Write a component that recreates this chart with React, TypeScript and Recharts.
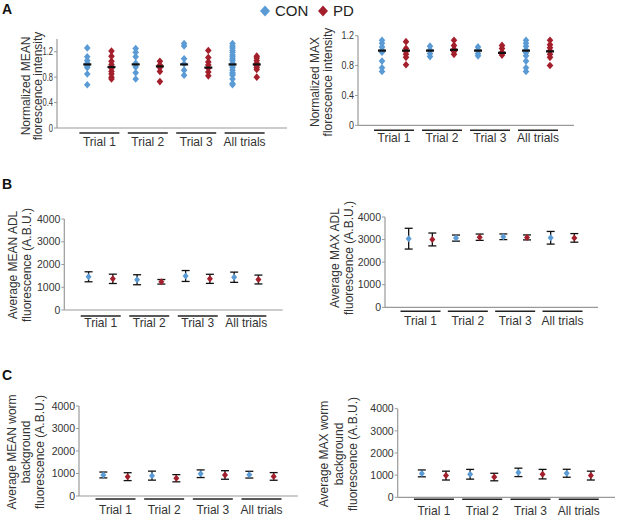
import React from "react";
import { ComposedChart, Scatter, XAxis, YAxis, ErrorBar } from "recharts";

const FONT = "Arial, 'Liberation Sans', Helvetica, sans-serif";
const CON_COLOR = "#5b9bd5";
const PD_COLOR = "#a31f2b";
const AXIS_COLOR = "#9a9a9a";
const TEXT_COLOR = "#333333";

const groups = ["Trial 1", "Trial 2", "Trial 3", "All trials"];

// A: normalized MEAN florescence, individual worms
const meanCon = [
  [1.26, 1.12, 1.06, 1.02, 0.98, 0.95, 0.85, 0.68],
  [1.25, 1.19, 1.12, 1.02, 0.96, 0.87, 0.77],
  [1.33, 1.29, 1.09, 1.01, 0.91, 0.83],
  [1.33, 1.29, 1.26, 1.22, 1.19, 1.15, 1.12, 1.09, 1.06, 1.02, 1.0, 0.98, 0.95, 0.91, 0.87, 0.85, 0.83, 0.77, 0.7, 0.68],
];
const meanPd = [
  [1.21, 1.13, 1.05, 1.0, 0.94, 0.89, 0.85, 0.8, 0.77],
  [1.05, 0.99, 0.95, 0.89, 0.73],
  [1.22, 1.11, 1.04, 0.99, 0.94, 0.88, 0.82],
  [1.13, 1.1, 1.06, 1.02, 1.0, 0.98, 0.95, 0.92, 0.8],
];
const meanConMedian = [1.0, 1.0, 1.0, 1.0];
const meanPdMedian = [0.96, 0.97, 0.95, 1.0];

// A: normalized MAX florescence
const maxCon = [
  [1.14, 1.1, 1.05, 1.01, 0.98, 0.86, 0.77, 0.72],
  [1.06, 1.01, 0.96, 0.92],
  [1.05, 1.01, 0.96, 0.93],
  [1.14, 1.1, 1.06, 1.01, 0.97, 0.93, 0.86, 0.77, 0.72],
];
const maxPd = [
  [1.12, 1.03, 0.99, 0.95, 0.91, 0.81],
  [1.14, 1.07, 1.02, 0.99, 0.95],
  [1.07, 1.03, 0.98, 0.94],
  [1.14, 1.08, 1.04, 1.0, 0.95, 0.91, 0.8],
];
const maxConMedian = [1.0, 1.0, 1.0, 1.0];
const maxPdMedian = [1.0, 1.01, 0.97, 0.99];

// B: ADL fluorescence (mean ± error)
const adlMeanCon = [1460, 1330, 1495, 1440];
const adlMeanConErr = [220, 220, 240, 225];
const adlMeanPd = [1370, 1240, 1370, 1340];
const adlMeanPdErr = [205, 100, 200, 195];
const adlMaxCon = [3040, 3066, 3124, 3080];
const adlMaxConErr = [460, 135, 125, 280];
const adlMaxPd = [3005, 3105, 3095, 3075];
const adlMaxPdErr = [285, 140, 110, 190];

// C: worm background fluorescence
const bgMeanCon = [935, 905, 990, 948];
const bgMeanConErr = [130, 200, 170, 150];
const bgMeanPd = [860, 790, 935, 870];
const bgMeanPdErr = [175, 160, 190, 170];
const bgMaxCon = [1080, 1040, 1125, 1085];
const bgMaxConErr = [155, 220, 190, 180];
const bgMaxPd = [980, 915, 1045, 980];
const bgMaxPdErr = [200, 170, 215, 200];

const ratioTicks = [0, 0.4, 0.8, 1.2];
const abuTicks = [0, 1000, 2000, 3000, 4000];
const groupTicks = [1.5, 3.5, 5.5, 7.5];

const X_H = 30;
const Y_W = 40;
const TICK_FS = 10.5;

const spread = (vals: number[][], off: number) =>
  vals.flatMap((vs, g) => vs.map((v) => ({ x: 2 * g + 1 + off, y: v })));
const single = (vals: number[], off: number, errs?: number[]) =>
  vals.map((v, g) => ({ x: 2 * g + 1 + off, y: v, err: errs ? errs[g] : 0 }));

const diamond = (color: string, r: number) => (p: any) => (
  <polygon
    points={`${p.cx},${p.cy - r - 0.5} ${p.cx + r},${p.cy} ${p.cx},${p.cy + r + 0.5} ${p.cx - r},${p.cy}`}
    fill={color}
  />
);
const medianBar = (p: any) => (
  <line x1={p.cx - 4} x2={p.cx + 4} y1={p.cy} y2={p.cy} stroke="#111" strokeWidth={2.2} />
);

const fmt = (v: number) => (v === 0 || v >= 100 ? String(v) : v.toFixed(1));
// rough Arial advance widths, used to squeeze narrow tick labels
const textWidth = (s: string) =>
  s.split("").reduce((w, c) => w + (c === "." ? 0.278 : 0.556), 0) * TICK_FS;

function Panel({ left, top, plot, xDomain, yDomain, yTicks, lineDy, labelDy, squeeze = 1, children }: any) {
  const width = plot.right - left + 1;
  const height = plot.bottom - top + X_H;
  const GroupTick = (p: any) => {
    const label = groups[groupTicks.indexOf(p.payload.value)];
    return (
      <g>
        <line x1={p.x - 20} x2={p.x + 20} y1={p.y + lineDy} y2={p.y + lineDy} stroke="#222" strokeWidth={1.4} />
        <text x={p.x} y={p.y + labelDy} textAnchor="middle" fontSize={12} fill={TEXT_COLOR} fontFamily={FONT}>
          {label}
        </text>
      </g>
    );
  };
  const ValueTick = (p: any) => {
    const s = fmt(p.payload.value);
    return (
      <text
        x={p.x}
        y={p.y + 3.7}
        textAnchor="end"
        fontSize={TICK_FS}
        fill={TEXT_COLOR}
        fontFamily={FONT}
        textLength={squeeze < 1 ? textWidth(s) * squeeze : undefined}
        lengthAdjust="spacingAndGlyphs"
      >
        {s}
      </text>
    );
  };
  return (
    <div style={{ position: "absolute", left, top }}>
      <ComposedChart
        width={width}
        height={height}
        margin={{ top: plot.top - top, left: plot.left - left - Y_W, right: 1, bottom: 0 }}
      >
        <XAxis
          type="number"
          dataKey="x"
          domain={xDomain}
          ticks={groupTicks}
          interval={0}
          allowDataOverflow
          height={X_H}
          tickSize={0}
          tickMargin={0}
          tickLine={false}
          axisLine={{ stroke: AXIS_COLOR, strokeWidth: 1.2 }}
          tick={<GroupTick />}
        />
        <YAxis
          type="number"
          dataKey="y"
          domain={yDomain}
          ticks={yTicks}
          interval={0}
          allowDataOverflow
          width={Y_W}
          tickSize={3}
          tickMargin={1}
          tickLine={{ stroke: AXIS_COLOR }}
          axisLine={{ stroke: AXIS_COLOR, strokeWidth: 1.2 }}
          tick={<ValueTick />}
        />
        {children}
      </ComposedChart>
    </div>
  );
}

function DotPanel(props: any) {
  const { con, pd, conMed, pdMed } = props;
  return (
    <Panel {...props} yTicks={ratioTicks}>
      <Scatter data={spread(con, 0)} dataKey="y" shape={diamond(CON_COLOR, 3.3)} isAnimationActive={false} />
      <Scatter data={spread(pd, 1)} dataKey="y" shape={diamond(PD_COLOR, 3.3)} isAnimationActive={false} />
      <Scatter data={single(conMed, 0)} dataKey="y" shape={medianBar} isAnimationActive={false} />
      <Scatter data={single(pdMed, 1)} dataKey="y" shape={medianBar} isAnimationActive={false} />
    </Panel>
  );
}

function ErrPanel(props: any) {
  const { con, conErr, pd, pdErr } = props;
  return (
    <Panel {...props} yDomain={[0, 4000]} yTicks={abuTicks}>
      <Scatter data={single(con, 0, conErr)} dataKey="y" shape={diamond(CON_COLOR, 3)} isAnimationActive={false}>
        <ErrorBar dataKey="err" direction="y" width={4} stroke="#111" strokeWidth={1.3} />
      </Scatter>
      <Scatter data={single(pd, 1, pdErr)} dataKey="y" shape={diamond(PD_COLOR, 3)} isAnimationActive={false}>
        <ErrorBar dataKey="err" direction="y" width={4} stroke="#111" strokeWidth={1.3} />
      </Scatter>
    </Panel>
  );
}

const Title = ({ x, y, text }: { x: number; y: number; text: string }) => (
  <text x={x} y={y} transform={`rotate(-90 ${x} ${y})`} textAnchor="middle" fontSize={12} fill={TEXT_COLOR} fontFamily={FONT}>
    {text}
  </text>
);

export default function App() {
  return (
    <div style={{ position: "absolute", left: 0, top: 0, width: 617, height: 518, background: "#fff", overflow: "hidden", fontFamily: FONT }}>
      <DotPanel
        left={0} top={30}
        plot={{ left: 57, right: 287, top: 39, bottom: 128 }}
        xDomain={[-0.25, 9.25]} yDomain={[0, 1.4]} lineDy={5} labelDy={18} squeeze={0.72}
        con={meanCon} pd={meanPd} conMed={meanConMedian} pdMed={meanPdMedian}
      />
      <DotPanel
        left={310} top={25}
        plot={{ left: 358, right: 574, top: 35.7, bottom: 125.3 }}
        xDomain={[0, 9]} yDomain={[0, 1.2]} lineDy={5} labelDy={17} squeeze={0.85}
        con={maxCon} pd={maxPd} conMed={maxConMedian} pdMed={maxPdMedian}
      />
      <ErrPanel
        left={0} top={210}
        plot={{ left: 64.3, right: 282.7, top: 219, bottom: 310 }}
        xDomain={[0, 9]} lineDy={6} labelDy={17}
        con={adlMeanCon} conErr={adlMeanConErr} pd={adlMeanPd} pdErr={adlMeanPdErr}
      />
      <ErrPanel
        left={310} top={208}
        plot={{ left: 385, right: 598, top: 217, bottom: 307.3 }}
        xDomain={[0, 9]} lineDy={4} labelDy={18}
        con={adlMaxCon} conErr={adlMaxConErr} pd={adlMaxPd} pdErr={adlMaxPdErr}
      />
      <ErrPanel
        left={0} top={398}
        plot={{ left: 79, right: 298, top: 406, bottom: 496 }}
        xDomain={[0, 9]} lineDy={3} labelDy={18}
        con={bgMeanCon} conErr={bgMeanConErr} pd={bgMeanPd} pdErr={bgMeanPdErr}
      />
      <ErrPanel
        left={310} top={400}
        plot={{ left: 397.7, right: 615, top: 408.7, bottom: 497.3 }}
        xDomain={[0, 9]} lineDy={2} labelDy={18}
        con={bgMaxCon} conErr={bgMaxConErr} pd={bgMaxPd} pdErr={bgMaxPdErr}
      />

      <svg width={617} height={518} style={{ position: "absolute", left: 0, top: 0, pointerEvents: "none" }}>
        <g fontFamily={FONT} fontWeight="bold" fontSize={14} fill="#111">
          <text x={2} y={14}>A</text>
          <text x={2} y={189}>B</text>
          <text x={2} y={380}>C</text>
        </g>
        <polygon points="265,5.5 270,11 265,16.5 260,11" fill={CON_COLOR} />
        <text x={275} y={16} fontSize={15} fill="#222" fontFamily={FONT}>CON</text>
        <polygon points="323,5.5 328,11 323,16.5 318,11" fill={PD_COLOR} />
        <text x={333} y={16} fontSize={15} fill="#222" fontFamily={FONT}>PD</text>

        <Title x={30} y={86} text="Normalized MEAN" />
        <Title x={42} y={86} text="florescence intensity" />
        <Title x={319} y={82} text="Normalized MAX" />
        <Title x={332} y={82} text="florescence intensity" />

        <Title x={17} y={265} text="Average MEAN ADL" />
        <Title x={31} y={265} text="fluorescence (A.B.U.)" />
        <Title x={339} y={258} text="Average MAX ADL" />
        <Title x={353} y={258} text="fluorescence (A.B.U.)" />

        <Title x={16} y={452} text="Average MEAN worm" />
        <Title x={30} y={452} text="background" />
        <Title x={44} y={452} text="fluorescence (A.B.U.)" />
        <Title x={328} y={454} text="Average MAX worm" />
        <Title x={343} y={454} text="background" />
        <Title x={357} y={454} text="fluorescence (A.B.U.)" />
      </svg>
    </div>
  );
}
